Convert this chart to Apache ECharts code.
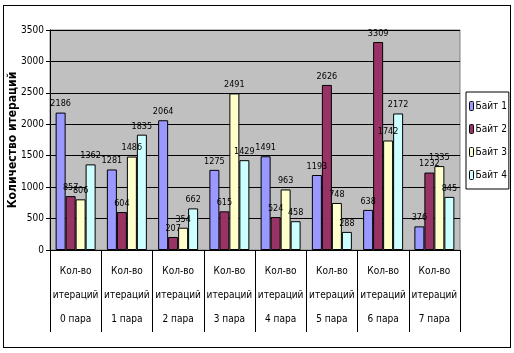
<!DOCTYPE html>
<html>
<head>
<meta charset="utf-8">
<script src="https://cdn.jsdelivr.net/npm/echarts@6/dist/echarts.min.js"></script>
<style>
  html, body { margin: 0; padding: 0; background: #fff; }
  #frame { position: absolute; left: 3px; top: 5px; width: 506px; height: 341px; border: 1px solid #000; }
  #chart { position: absolute; left: 0; top: 0; width: 514px; height: 353px; }
</style>
</head>
<body>
<div id="frame"></div>
<div id="chart"></div>
<script>
  const categories = ['0 пара', '1 пара', '2 пара', '3 пара', '4 пара', '5 пара', '6 пара', '7 пара'];
  const seriesNames = ['Байт 1', 'Байт 2', 'Байт 3', 'Байт 4'];
  const s1 = [2186, 1281, 2064, 1275, 1491, 1193, 638, 376];
  const s2 = [857, 604, 207, 615, 524, 2626, 3309, 1232];
  const s3 = [806, 1486, 354, 2491, 963, 748, 1742, 1335];
  const s4 = [1362, 1835, 662, 1429, 458, 288, 2172, 845];
  const colors = ['#9999FF', '#993366', '#FFFFCC', '#CCFFFF'];

  const narrow = '"DejaVu Sans Condensed", "Liberation Sans Narrow", "Liberation Sans", sans-serif';

  const chart = echarts.init(document.getElementById('chart'));
  const data = [s1, s2, s3, s4];

  chart.setOption({
    animation: false,
    grid: {
      left: 50, right: 54, top: 30, bottom: 103,
      outerBoundsMode: 'none', containLabel: false,
      backgroundColor: '#C0C0C0', show: true, borderColor: '#808080', borderWidth: 1
    },
    legend: {
      orient: 'vertical',
      left: 466, top: 92,
      itemWidth: 4, itemHeight: 9, itemGap: 13,
      padding: [9, 2, 9, 3],
      borderColor: '#000', borderWidth: 1,
      textStyle: { fontFamily: narrow, fontSize: 10, color: '#000', padding: [0, 0, 0, -3] },
      data: seriesNames.map((n, i) => ({ name: n, itemStyle: { color: colors[i], borderColor: '#000', borderWidth: 1 } }))
    },
    xAxis: {
      type: 'category',
      data: categories,
      axisLine: { lineStyle: { color: '#000', width: 1 } },
      axisTick: { show: true, length: 82, lineStyle: { color: '#000' } },
      axisLabel: {
        interval: 0,
        margin: 9,
        lineHeight: 24,
        fontFamily: narrow, fontSize: 10, color: '#000',
        formatter: v => 'Кол-во\nитераций\n' + v
      }
    },
    yAxis: {
      type: 'value',
      min: 0, max: 3500, interval: 500,
      name: 'Количество итераций',
      nameLocation: 'middle',
      nameGap: 31,
      nameMoveOverlap: false,
      nameTextStyle: { fontFamily: narrow, fontWeight: 'bold', fontSize: 12, color: '#000' },
      axisLine: { show: true, lineStyle: { color: '#000' } },
      axisTick: { show: true, length: 4, lineStyle: { color: '#000' } },
      axisLabel: { fontFamily: narrow, fontSize: 10, color: '#000', margin: 6, formatter: v => String(v) },
      splitLine: { show: true, lineStyle: { color: '#000', width: 1 } }
    },
    series: data.map((d, i) => ({
      name: seriesNames[i],
      type: 'bar',
      data: d,
      barGap: '0%',
      barCategoryGap: '22%',
      itemStyle: { color: colors[i], borderColor: '#000', borderWidth: 1 },
      label: { show: true, position: 'top', fontFamily: narrow, fontSize: 9, color: '#000', distance: 4 }
    }))
  });
</script>
</body>
</html>
